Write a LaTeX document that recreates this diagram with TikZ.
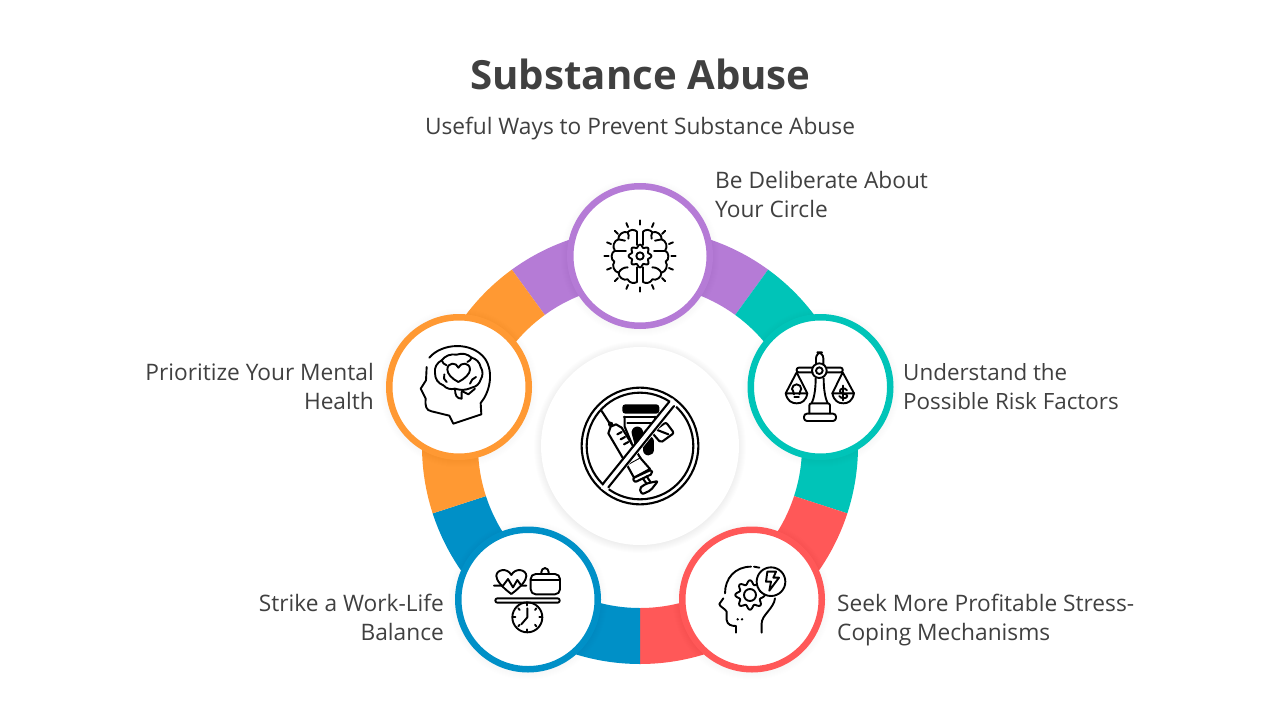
\documentclass[tikz,border=0pt]{standalone}
\usepackage{fontspec}
\setmainfont{Open Sans}
\usetikzlibrary{calc}
\definecolor{txt}{HTML}{404040}
\definecolor{cpurple}{HTML}{B57BD6}
\definecolor{cteal}{HTML}{00C4B8}
\definecolor{cred}{HTML}{FF5858}
\definecolor{cblue}{HTML}{0090C7}
\definecolor{corange}{HTML}{FF9933}
\tikzset{
  lab/.style={text=txt,font=\fontsize{22.7}{29}\selectfont,inner sep=0pt,align=left},
  labr/.style={lab,align=right},
  ic/.style={line width=1.9pt,line cap=round,line join=round,draw=black},
  icz/.style={shift={#1},scale=1/3,ic}
}
\newcommand{\seg}[3]{\fill[#1] (640,446) ++(#2:218) arc (#2:#3:218) -- ($(640,446)+(#3:162)$) arc (#3:#2:162) -- cycle;}
\newcommand{\softshadow}[4]{\foreach \i in {0,...,7}{\fill[black,opacity=#4] (#1,#2+1) circle ({#3+\i});}}
\newcommand{\gearshape}[5]{plot[domain=0:360,samples=121,smooth] ({#1+(#3+#4*cos(#5*\x))*cos(\x)},{#2+(#3+#4*cos(#5*\x))*sin(\x)})}
\begin{document}
\begin{tikzpicture}[x=1pt,y=-1pt]
\useasboundingbox (0,0) rectangle (1280,720);
\fill[white] (0,0) rectangle (1280,720);
% ring
\seg{cpurple}{-126}{-54}
\seg{cteal}{-54}{18}
\seg{cred}{18}{90}
\seg{cblue}{90}{162}
\seg{corange}{162}{234}
% centre disc
\softshadow{640}{446}{99}{.009}
\node[circle,fill=white,minimum size=198pt,inner sep=0pt] (hub) at (640,446) {};
% item circles
\foreach \n/\c/\px/\py in {a/cpurple/640/256,b/cteal/820.5/387,c/cred/752/599.5,d/cblue/528/599.5,e/corange/459/387}{
  \softshadow{\px}{\py}{72.5}{.003}
  \node[circle,draw=\c,line width=6.5pt,fill=white,minimum size=139.5pt,inner sep=0pt] (\n) at (\px,\py) {};
}
% texts
\node[text=txt,font=\fontsize{40.2}{48}\selectfont\bfseries,inner sep=0pt] (title) at (640.5,74) {Substance Abuse};
\node[text=txt,font=\fontsize{22.7}{29}\selectfont,inner sep=0pt] (sub) at (640,128.5) {Useful Ways to Prevent Substance Abuse};
\node[lab,anchor=west] (la) at (715,194.5) {Be Deliberate About\\Your Circle};
\node[lab,font=\fontsize{22.4}{29}\selectfont,anchor=west] (lb) at (903,386.5) {Understand the\\Possible Risk Factors};
\node[lab,anchor=west] (lc) at (837,620.5) {Seek More Profitable Stress-\\Coping Mechanisms};
\node[labr,anchor=east] (ld) at (444,617.5) {Strike a Work-Life\\Balance};
\node[labr,anchor=east] (le) at (374,386.5) {Prioritize Your Mental\\Health};

% ---- icon: no drugs (zoom coords, origin 540,345)
\begin{scope}[icz={(540,345)},line width=2.1pt]
  % bottle
  \fill[black,rounded corners=3pt] (247,206) -- (247,178) -- (358,178) -- (358,206) -- cycle;
  \draw (252,215) -- (350,215);
  \draw (254,215) -- (254,245) -- (275,295);
  \draw (346,215) -- (346,240);
  \draw (262,233) -- (335,233);
  \draw[line width=11.5pt] (292,262) -- (300,292);
  \draw[line width=11.5pt] (325,290) -- (325,314);
  % pill box
  \draw[fill=white,rounded corners=2pt] (378,232) -- (402,264) -- (362,293) -- (335,262) -- cycle;
  \draw (352,255) -- (385,268);
  % syringe
  \draw (185,198) -- (212,240);
  \fill (212,238) circle (8);
  \draw[fill=white] (205,265) -- (212,245) -- (228,238) -- (245,248) -- (302,340) -- (262,362) -- cycle;
  \draw (232,268) -- (245,261) (242,283) -- (255,276) (252,298) -- (265,291);
  \draw[fill=white] (262,362) -- (282,398) -- (330,372) -- (302,340);
  \draw[fill=white,rounded corners=2pt] (278,400) -- (334,374) -- (338,386) -- (284,412) -- cycle;
  \draw (308,400) -- (320,416) (320,394) -- (332,412);
  \draw[fill=white,rounded corners=2pt] (298,430) -- (318,416) -- (354,408) -- (332,436) -- (306,448) -- cycle;
  % ring
  \draw (300,303) circle (175);
  \draw (300,303) circle (160);
  % diagonal band
  \fill[white] (183,430) -- (398,160) -- (412,180) -- (200,440) -- cycle;
  \draw (190,415) -- (388,170);
  \draw (205,427) -- (402,183);
\end{scope}

% ---- icon: brain with gear (origin 560,180, centre 240,228)
\begin{scope}[icz={(560,180)}]
  \foreach \t in {0,22.5,...,337.5}{\draw ($(240,228)+(\t:94)$) -- ($(240,228)+(\t:107)$);}
  \draw \gearshape{240}{228}{30}{4}{8};
  \draw (240,228) circle (11);
  % left lobe
  \draw (231,195) -- (231,155) to[bend right=50] (203,157) to[bend right=60] (175,178) to[bend right=60] (165,212)
        to[bend right=70] (163,245) to[bend right=60] (176,278) to[bend right=60] (203,298) to[bend right=50] (231,306) -- (231,262);
  \draw (203,157) to[bend left=20] (205,176);
  \draw (175,178) -- (195,182);
  \draw (165,212) -- (198,212);
  \draw (176,278) to[bend left=30] (203,262);
  % right lobe
  \draw (249,195) -- (249,155) to[bend left=50] (277,157) to[bend left=60] (305,178) to[bend left=60] (315,212)
        to[bend left=70] (317,245) to[bend left=60] (304,278) to[bend left=60] (277,298) to[bend left=50] (249,306) -- (249,262);
  \draw (277,157) to[bend right=20] (275,176);
  \draw (305,178) -- (285,182);
  \draw (315,212) -- (282,212);
  \draw (304,278) to[bend right=30] (277,262);
\end{scope}

% ---- icon: scales (origin 750,315)
\begin{scope}[icz={(750,315)}]
  \draw[rounded corners=6pt] (198,148) -- (198,112) -- (220,112) -- (220,148);
  \draw[rounded corners=2pt] (188,158) -- (140,158) -- (140,172) -- (188,172);
  \draw[rounded corners=2pt] (230,158) -- (278,158) -- (278,172) -- (230,172);
  \draw (208,167) circle (22);
  \draw (208,167) circle (10);
  \draw (140,172) -- (107,235) (140,172) -- (172,235);
  \draw (278,172) -- (247,235) (278,172) -- (312,235);
  \draw (107,235) -- (172,235) (107,235) .. controls (112,258) and (125,265) .. (140,265) .. controls (155,265) and (168,258) .. (172,235);
  \draw (247,235) -- (312,235) (247,235) .. controls (252,258) and (265,265) .. (280,265) .. controls (295,265) and (307,258) .. (312,235);
  \draw (197,190) .. controls (197,225) and (192,250) .. (185,265);
  \draw (221,190) .. controls (221,225) and (226,250) .. (233,265);
  \draw[rounded corners=2pt] (178,295) -- (178,265) -- (240,265) -- (240,295);
  \draw[rounded corners=3pt] (162,296) rectangle (258,318);
  % bulb
  \draw (132,238) .. controls (132,228) and (126,225) .. (126,222) arc (180:360:14) .. controls (154,225) and (148,228) .. (148,238);
  \draw (133,247) -- (147,247);
  % dollar
  \draw (291,226) .. controls (285,216) and (267,220) .. (270,230) .. controls (272,238) and (292,234) .. (292,243) .. controls (292,252) and (272,252) .. (268,243);
  \draw (280,212) -- (280,256);
\end{scope}

% ---- icon: head, gear, bolt (origin 680,530)
\begin{scope}[icz={(680,530)}]
  \draw (213,110) .. controls (165,110) and (135,145) .. (135,190);
  \draw (222,110) -- (238,113);
  \draw (130,205) -- (118,222) .. controls (118,230) and (135,235) .. (140,245) -- (140,270) .. controls (142,285) and (155,288) .. (168,288) -- (168,308);
  \draw (285,205) .. controls (282,235) and (245,255) .. (245,280) -- (245,308);
  \fill (173,268) circle (4) (186,268) circle (4);
  \draw \gearshape{210}{195}{38}{6}{8};
  \draw (210,195) circle (18);
  \draw[fill=white] (273,155) circle (43);
  \draw (262,125) -- (288,125) -- (280,143) -- (297,143) -- (268,182) -- (273,155) -- (258,155) -- cycle;
\end{scope}

% ---- icon: work-life (origin 458,530)
\begin{scope}[icz={(458,530)}]
  \draw (160,192) .. controls (130,170) and (115,150) .. (115,138) .. controls (115,118) and (148,112) .. (160,135) .. controls (172,112) and (205,118) .. (205,138) .. controls (205,150) and (190,170) .. (160,192);
  \draw (108,167) -- (135,167) -- (150,147) -- (165,172) -- (178,150) -- (190,167) -- (205,167);
  \draw[rounded corners=5pt] (218,132) rectangle (306,193);
  \draw (218,150) -- (306,150);
  \draw[rounded corners=4pt] (250,132) -- (250,114) -- (272,114) -- (272,132);
  \draw[rounded corners=2pt] (112,205) rectangle (305,218);
  \draw (208,262) circle (45);
  \draw (208,235) -- (208,262) -- (190,283);
  \draw (208,220) -- (208,226) (208,298) -- (208,304) (166,262) -- (172,262) (244,262) -- (250,262);
  \draw (181,235) -- (185,240) (235,235) -- (231,240) (181,289) -- (185,284) (235,289) -- (231,284);
\end{scope}

% ---- icon: head with heart (origin 390,317)
\begin{scope}[icz={(390,317)}]
  \draw (118,122) .. controls (155,78) and (245,72) .. (285,125) .. controls (312,165) and (300,225) .. (272,258) -- (274,292) -- (190,320) -- (178,296) -- (125,283) .. controls (108,280) and (105,268) .. (107,245) -- (92,215) -- (108,190) -- (110,150);
  % brain
  \draw (135,168) to[bend left=35] (155,130) to[bend left=30] (200,113) to[bend left=30] (245,122) to[bend left=30] (272,150) to[bend left=30] (272,188) to[bend left=30] (245,212) to[bend left=20] (195,215) to[bend left=30] (160,205) to[bend left=35] (135,168);
  \draw (155,130) to[bend right=25] (170,145);
  \draw (245,122) to[bend left=20] (232,135);
  \draw (163,172) to[bend right=40] (170,195);
  \draw (240,200) to[bend left=25] (258,180);
  \draw (195,215) .. controls (195,235) and (200,245) .. (215,245) -- (215,225);
  \draw (215,222) -- (235,232) -- (255,215);
  % heart
  \draw (205,195) .. controls (185,185) and (172,170) .. (172,158) .. controls (172,135) and (200,135) .. (205,152) .. controls (212,135) and (240,135) .. (240,158) .. controls (240,170) and (225,185) .. (205,195);
\end{scope}
\end{tikzpicture}
\end{document}
